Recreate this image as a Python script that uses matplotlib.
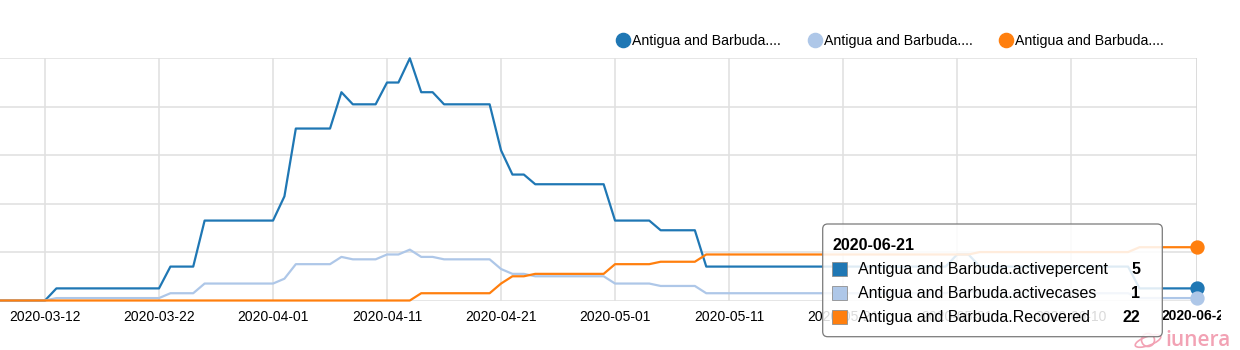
import matplotlib
matplotlib.use("Agg")
import matplotlib.pyplot as plt
import matplotlib.dates as mdates
import matplotlib.transforms as mtransforms
from matplotlib.patches import FancyBboxPatch, Rectangle, Ellipse, Circle
from matplotlib.lines import Line2D
import pandas as pd

plt.rcParams['font.family'] = ['Liberation Sans', 'DejaVu Sans']

# ---------------- data ----------------
dates = ['2020-03-08', '2020-03-12', '2020-03-13', '2020-03-22', '2020-03-23', '2020-03-25',
         '2020-03-26', '2020-04-01', '2020-04-02', '2020-04-03', '2020-04-06', '2020-04-07',
         '2020-04-08', '2020-04-10', '2020-04-11', '2020-04-12', '2020-04-13', '2020-04-14',
         '2020-04-15', '2020-04-16', '2020-04-20', '2020-04-21', '2020-04-22', '2020-04-23',
         '2020-04-24', '2020-04-30', '2020-05-01', '2020-05-04', '2020-05-05', '2020-05-08',
         '2020-05-09', '2020-05-30', '2020-05-31', '2020-06-01', '2020-06-02', '2020-06-15',
         '2020-06-16', '2020-06-21']
activepercent = [0, 0, 5, 5, 14, 14, 33, 33, 43, 71, 71, 86, 81, 81, 90, 90, 100, 86, 86, 81,
                 81, 62, 52, 52, 48, 48, 33, 33, 29, 29, 14, 14, 19, 19, 14, 14, 5, 5]
activecases = [0, 0, 1, 1, 3, 3, 7, 7, 9, 15, 15, 18, 17, 17, 19, 19, 21, 18, 18, 17,
               17, 13, 11, 11, 10, 10, 7, 7, 6, 6, 3, 3, 4, 4, 3, 3, 1, 1]
recovered = [0, 0, 0, 0, 0, 0, 0, 0, 0, 0, 0, 0, 0, 0, 0, 0, 0, 3, 3, 3,
             3, 7, 10, 10, 11, 11, 15, 15, 16, 16, 19, 19, 19, 19, 20, 20, 22, 22]

series_names = ['Antigua and Barbuda.activepercent', 'Antigua and Barbuda.activecases',
                'Antigua and Barbuda.Recovered']
legend_labels = ['Antigua and Barbuda....', 'Antigua and Barbuda....', 'Antigua and Barbuda....']
colors = ['#1f77b4', '#aec7e8', '#ff7f0e']

tick_dates = ['2020-03-12', '2020-03-22', '2020-04-01', '2020-04-11', '2020-04-21',
              '2020-05-01', '2020-05-11', '2020-05-21', '2020-05-31', '2020-06-10']
hover_date = '2020-06-21'
y_ticks = [0, 20, 40, 60, 80, 100]

# ---------------- figure ----------------
W, H = 1240, 350
fig = plt.figure(figsize=(W / 100, H / 100), dpi=100)

ax_left_px, ax_right_px, ax_top_px, ax_bot_px = 0, 1196.5, 58.3, 300.5
ax = fig.add_axes([ax_left_px / W, 1 - ax_bot_px / H,
                   (ax_right_px - ax_left_px) / W, (ax_bot_px - ax_top_px) / H])

x = mdates.date2num(pd.to_datetime(dates))
x_hover = mdates.date2num(pd.Timestamp(hover_date))
x_first_tick = mdates.date2num(pd.Timestamp(tick_dates[0]))
px_per_day = 11.4
ax.set_xlim(x_first_tick - 45 / px_per_day, x_hover)
ax.set_ylim(0, 100)

for s in ax.spines.values():
    s.set_visible(False)
ax.set_yticks(y_ticks)
ax.set_yticklabels([])
tx = mdates.date2num(pd.to_datetime(tick_dates))
ax.set_xticks(tx)
ax.set_xticklabels(tick_dates, fontsize=10, color='black')
ax.tick_params(axis='both', length=0)
ax.tick_params(axis='x', pad=7)
ax.grid(True, color='#e1e1e1', lw=1.2, zorder=0)
ax.set_axisbelow(True)
ax.axvline(x_hover, color='#d6d6d6', lw=1.2, zorder=1)

# hover tick label (bold), clipped at the right like the original
ht = ax.text(x_hover, -15 / (ax_bot_px - ax_top_px) * 100, hover_date,
             ha='center', va='center', fontsize=10, fontweight='bold', color='black')
ht.set_clip_box(mtransforms.TransformedBbox(
    mtransforms.Bbox([[0, 0], [1221 / W, 1]]), fig.transFigure))
ht.set_clip_on(True)

values = [activepercent, activecases, recovered]
for vals, c in zip(values, colors):
    ax.plot(x, vals, color=c, lw=1.6, clip_on=False, zorder=3)
for vals, c in zip(values, colors):
    ax.plot([x[-1]], [vals[-1]], 'o', ms=9.3, color=c, mec=c, clip_on=False, zorder=4)

# ---------------- legend (top) ----------------
def fx(px):
    return px / W

def fy(py):
    return 1 - py / H

leg_x = [623, 815, 1006]
for lx, lab, c in zip(leg_x, legend_labels, colors):
    fig.add_artist(Line2D([fx(lx)], [fy(40)], marker='o', ms=10.2, color=c, mec=c, lw=0,
                          transform=fig.transFigure))
    fig.text(fx(lx + 9), fy(40.5), lab, fontsize=10.2, color='black', va='center', ha='left')

# ---------------- tooltip ----------------
ident = mtransforms.IdentityTransform()
bx0, bx1, by0, by1 = 822.7, 1162.3, 224, 336.7
box = FancyBboxPatch((bx0, H - by1), bx1 - bx0, by1 - by0,
                     boxstyle='round,pad=0,rounding_size=5', transform=ident,
                     facecolor='white', alpha=0.86, edgecolor='none', zorder=10)
fig.add_artist(box)
border = FancyBboxPatch((bx0, H - by1), bx1 - bx0, by1 - by0,
                        boxstyle='round,pad=0,rounding_size=5', transform=ident,
                        facecolor='none', edgecolor='#7a7a7a', lw=0.9, zorder=11)
fig.add_artist(border)
fig.text(fx(832), fy(245), hover_date, fontsize=11.5, fontweight='bold', va='center',
         ha='left', zorder=12)
row_y = [269.3, 293.3, 317.3]
for ry, name, vals, c in zip(row_y, series_names, values, colors):
    fig.add_artist(Rectangle((832.3, H - ry - 7), 14.4, 14.4, transform=ident,
                             facecolor=c, edgecolor='#8f8f8f', lw=0.6, zorder=12))
    fig.text(fx(858), fy(ry), name, fontsize=11.5, va='center', ha='left', zorder=12)
    fig.text(fx(1140.5), fy(ry), f"{vals[-1]:g}", fontsize=11.5, fontweight='bold',
             va='center', ha='right', zorder=12)

# ---------------- watermark ----------------
pink = '#f2a2b4'
fig.add_artist(Circle((1148, H - 340), 6.5, transform=ident, facecolor='none',
                      edgecolor=pink, lw=1.2))
fig.add_artist(Ellipse((1148, H - 341), 27, 9, angle=20, transform=ident, facecolor='none',
                       edgecolor=pink, lw=1.2))
fig.text(fx(1165), fy(341), 'iunera', fontsize=15, color=pink, va='center', ha='left',
         fontweight='semibold', family=['Open Sans', 'DejaVu Sans'])

fig.savefig('out.png', dpi=100)
